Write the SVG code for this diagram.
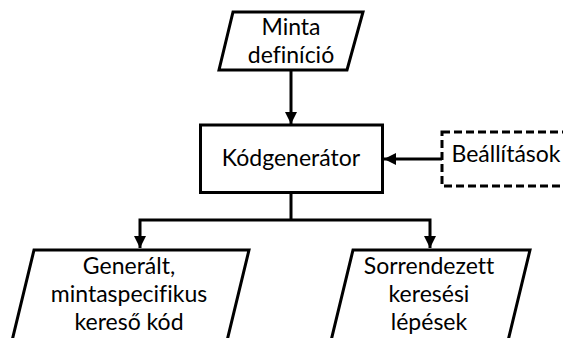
<svg xmlns="http://www.w3.org/2000/svg" width="563" height="338" viewBox="0 0 563 338">
  <style>
    .shape { fill: #ffffff; stroke: #000000; stroke-width: 3; stroke-linejoin: miter; }
    .dashed { stroke-dasharray: 8 4; }
    .label { font-family: Lato, "Open Sans", sans-serif; font-size: 23px; fill: #000000; text-anchor: middle; font-variant-ligatures: none; }
    .wire { fill: none; stroke: #000000; stroke-width: 3; }
  </style>
  <defs>
    <marker id="arrow" viewBox="0 0 12 12" refX="12" refY="6" markerWidth="12" markerHeight="12" markerUnits="userSpaceOnUse" orient="auto">
      <path d="M0,0 L12,6 L0,12 Z" fill="#000000"/>
    </marker>
  </defs>

  <g id="minta-definicio">
    <polygon class="shape" points="233,12 363,12 347,70 219,70"/>
    <text class="label" x="291" y="35">Minta</text>
    <text class="label" x="291" y="63">definíció</text>
  </g>

  <g id="kodgenerator">
    <rect class="shape" x="200.5" y="125" width="182" height="67.5"/>
    <text class="label" x="291" y="166">Kódgenerátor</text>
  </g>

  <g id="beallitasok">
    <rect class="shape dashed" x="442" y="132" width="140" height="54"/>
    <text class="label" x="506" y="162">Beállítások</text>
  </g>

  <g id="generalt-kod">
    <polygon class="shape" points="34,250 249,250 226,345 11,345"/>
    <text class="label" x="129" y="274">Generált,</text>
    <text class="label" x="129" y="302">mintaspecifikus</text>
    <text class="label" x="129" y="330">kereső kód</text>
  </g>

  <g id="keresesi-lepesek">
    <polygon class="shape" points="353,250 530,250 507,345 330,345"/>
    <text class="label" x="429" y="274">Sorrendezett</text>
    <text class="label" x="429" y="302">keresési</text>
    <text class="label" x="429" y="330">lépések</text>
  </g>

  <g id="connectors">
    <line class="wire" x1="291" y1="70" x2="291" y2="124" marker-end="url(#arrow)"/>
    <line class="wire" x1="442" y1="159" x2="384" y2="159" marker-end="url(#arrow)"/>
    <polyline class="wire" points="291,192.5 291,220"/>
    <polyline class="wire" points="291,220 140,220 140,248" marker-end="url(#arrow)"/>
    <polyline class="wire" points="291,220 430,220 430,248" marker-end="url(#arrow)"/>
  </g>
</svg>
